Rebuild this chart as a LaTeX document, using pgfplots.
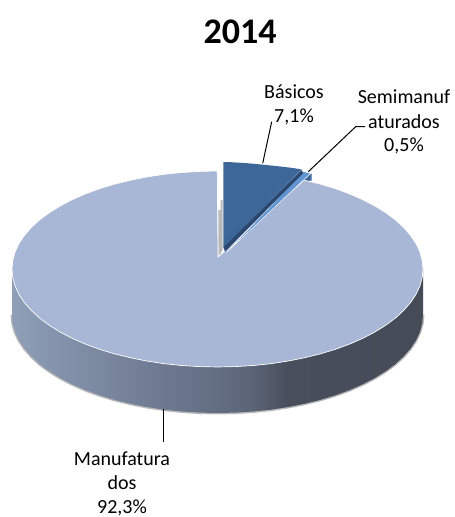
\documentclass[border=0pt]{standalone}
\usepackage{fontspec}
\setmainfont{Carlito}
\usepackage{pgfplots}
\usepackage{pgfplotstable}
\pgfplotsset{compat=1.18}
\definecolor{topc}{RGB}{169,183,215}
\definecolor{basic}{RGB}{62,103,153}
\definecolor{basicside}{RGB}{42,72,112}
\definecolor{semi}{RGB}{98,150,210}
\definecolor{banda}{RGB}{143,159,184}
\definecolor{bandb}{RGB}{116,129,153}
\definecolor{bandc}{RGB}{103,113,134}
\definecolor{bandd}{RGB}{92,101,120}
\definecolor{bande}{RGB}{72,78,92}
\definecolor{bandf}{RGB}{70,75,88}
\pgfdeclarehorizontalshading{bandshade}{100bp}{
  color(0bp)=(banda);
  color(25bp)=(banda);
  color(39bp)=(bandb);
  color(48bp)=(bandc);
  color(54bp)=(bandd);
  color(58.5bp)=(bande);
  color(75bp)=(bandf);
  color(100bp)=(bandf)}
% lower rim of the disc, in picture pixels
\pgfplotstableread{
x y
12 315
12.8 323.5
15.1 332
19 340.4
24.4 348.5
31.3 356.4
39.5 364
49.2 371.2
60.1 378
72.2 384.3
85.4 390.1
99.6 395.3
114.7 399.9
130.7 403.8
147.2 407.1
164.3 409.7
181.8 411.5
199.6 412.6
217.5 413
235.4 412.6
253.2 411.5
270.7 409.7
287.8 407.1
304.3 403.8
320.3 399.9
335.4 395.3
349.6 390.1
362.8 384.3
374.9 378
385.8 371.2
395.5 364
403.7 356.4
410.6 348.5
416 340.4
419.9 332
422.2 323.5
423 315
}\rimtable
\begin{document}
\begin{tikzpicture}
  \begin{axis}[
    scale only axis,
    width=340.5pt,height=387.75pt,
    xmin=0,xmax=454,ymin=0,ymax=517,
    y dir=reverse,
    hide axis,
    clip=false,
    nodes={inner sep=0pt}]
    % keeps the page as large as the whole axis
    \path (axis cs:0,0) (axis cs:454,517);
    % halo under the side of the disc
    \addplot[color=black!28,line width=2.2pt] table[x=x,y=y] {\rimtable};
    % side of the disc
    \addplot[shading=bandshade,draw=none] coordinates {
      (423,269) (422.2,277.5) (419.9,286) (416,294.4) (410.6,302.5) (403.7,310.4)
      (395.5,318) (385.8,325.2) (374.9,332) (362.8,338.3) (349.6,344.1) (335.4,349.3)
      (320.3,353.9) (304.3,357.8) (287.8,361.1) (270.7,363.7) (253.2,365.5) (235.4,366.6)
      (217.5,367) (199.6,366.6) (181.8,365.5) (164.3,363.7) (147.2,361.1) (130.7,357.8)
      (114.7,353.9) (99.6,349.3) (85.4,344.1) (72.2,338.3) (60.1,332) (49.2,325.2)
      (39.5,318) (31.3,310.4) (24.4,302.5) (19,294.4) (15.1,286) (12.8,277.5) (12,269)
      (12,315) (12.8,323.5) (15.1,332) (19,340.4) (24.4,348.5) (31.3,356.4) (39.5,364)
      (49.2,371.2) (60.1,378) (72.2,384.3) (85.4,390.1) (99.6,395.3) (114.7,399.9)
      (130.7,403.8) (147.2,407.1) (164.3,409.7) (181.8,411.5) (199.6,412.6) (217.5,413)
      (235.4,412.6) (253.2,411.5) (270.7,409.7) (287.8,407.1) (304.3,403.8) (320.3,399.9)
      (335.4,395.3) (349.6,390.1) (362.8,384.3) (374.9,378) (385.8,371.2) (395.5,364)
      (403.7,356.4) (410.6,348.5) (416,340.4) (419.9,332) (422.2,323.5) (423,315)
    } -- cycle;
    % inner wall seen in the gap
    \addplot[fill=black!28,draw=none] coordinates {
      (218.3,210) (220.7,210) (220.7,200) (222.7,200) (222.7,250) (218.3,257)
    } -- cycle;
    % Semimanufaturados, outer block
    \addplot[fill=basic,draw=none] coordinates {
      (303,180.5) (311.7,173.3) (311.7,180.5) (308,181)
    } -- cycle;
    % Manufaturados top
    \addplot[fill=topc,draw=white,line width=0.5pt] coordinates {
      (218,257) (217.3,171)
      (199.6,171.4) (181.8,172.5) (164.3,174.3) (147.2,176.9) (130.7,180.2) (114.7,184.1)
      (99.6,188.7) (85.4,193.9) (72.2,199.7) (60.1,206) (49.2,212.8) (39.5,220)
      (31.3,227.6) (24.4,235.5) (19,243.6) (15.1,252) (12.8,260.5) (12,269)
      (12.8,277.5) (15.1,286) (19,294.4) (24.4,302.5) (31.3,310.4) (39.5,318)
      (49.2,325.2) (60.1,332) (72.2,338.3) (85.4,344.1) (99.6,349.3) (114.7,353.9)
      (130.7,357.8) (147.2,361.1) (164.3,363.7) (181.8,365.5) (199.6,366.6) (217.5,367)
      (235.4,366.6) (253.2,365.5) (270.7,363.7) (287.8,361.1) (304.3,357.8) (320.3,353.9)
      (335.4,349.3) (349.6,344.1) (362.8,338.3) (374.9,332) (385.8,325.2) (395.5,318)
      (403.7,310.4) (410.6,302.5) (416,294.4) (419.9,286) (422.2,277.5) (423,269)
      (422.2,260.5) (419.9,252) (416,243.6) (410.6,235.5) (403.7,227.6) (395.5,220)
      (385.8,212.8) (374.9,206) (362.8,199.7) (349.6,193.9) (335.4,188.7) (320.3,184.1)
      (304,180.2)
    } -- cycle;
    % Semimanufaturados top
    \addplot[fill=semi,draw=white,line width=0.3pt] coordinates {
      (303.3,171.5) (310.7,173.3) (302,181.5) (226.5,252.5)
    } -- cycle;
    % Basicos side
    \addplot[fill=basicside,draw=none] coordinates {
      (301.7,170) (303,173.3) (225,251.7) (223.3,246.7)
    } -- cycle;
    % Basicos top
    \addplot[fill=basic,draw=none] coordinates {
      (223.3,162) (233,162.3) (243,162.9) (253,163.7) (263,164.7) (273,165.7)
      (283,166.8) (293,168) (301.7,169.5) (223.3,247.5)
    } -- cycle;
    % leader lines
    \addplot[color=black,line width=0.75pt] coordinates {(271.7,121.7) (262.7,163.3)};
    \addplot[color=black,line width=0.75pt] coordinates {(365,126.7) (355.7,126.7) (308.3,171.7)};
    \addplot[color=black,line width=0.75pt] coordinates {(163.3,409) (163.3,442)};
    \node[font=\fontsize{27}{27}\selectfont\bfseries] at (axis cs:240,32) {2014};
    \node[font=\fontsize{15}{15}\selectfont] at (axis cs:294,92) {Básicos};
    \node[font=\fontsize{15}{15}\selectfont] at (axis cs:294,116.5) {7,1\%};
    \node[font=\fontsize{15}{15}\selectfont] at (axis cs:404,97) {Semimanuf};
    \node[font=\fontsize{15}{15}\selectfont] at (axis cs:404,121.5) {aturados};
    \node[font=\fontsize{15}{15}\selectfont] at (axis cs:404,146) {0,5\%};
    \node[font=\fontsize{15}{15}\selectfont] at (axis cs:122,459) {Manufatura};
    \node[font=\fontsize{15}{15}\selectfont] at (axis cs:122,483) {dos};
    \node[font=\fontsize{15}{15}\selectfont] at (axis cs:122,508) {92,3\%};
  \end{axis}
\end{tikzpicture}
\end{document}
